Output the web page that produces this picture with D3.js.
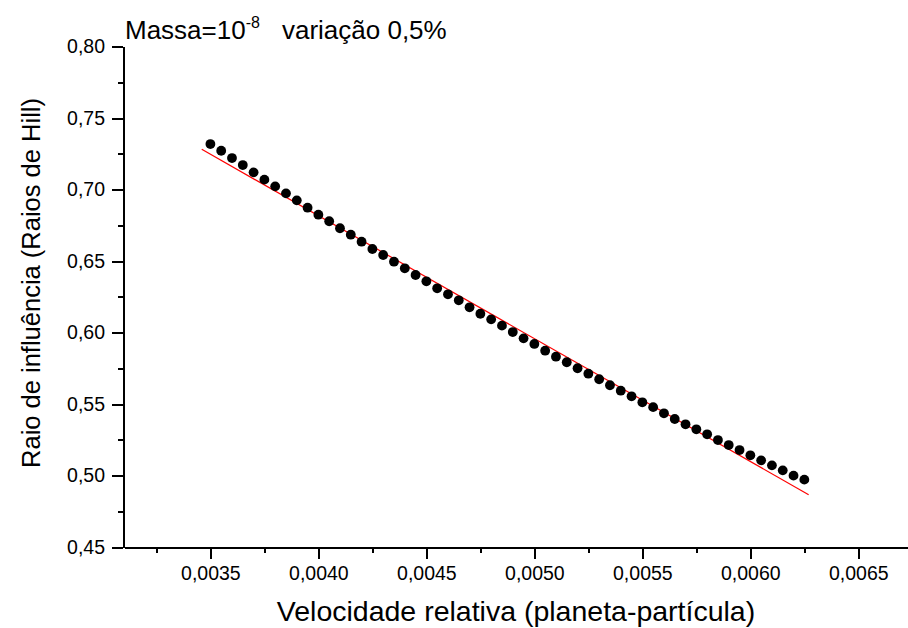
<!DOCTYPE html>
<html>
<head>
<meta charset="utf-8">
<script src="https://cdn.jsdelivr.net/npm/d3@7"></script>
<style>
  body { margin: 0; background: #fff; }
  svg { font-family: "Liberation Sans", Arial, sans-serif; }
  .axis path, .axis line { stroke: #000; stroke-width: 2; shape-rendering: crispEdges; }
  .axis text { font-size: 19.5px; fill: #000; }
</style>
</head>
<body>
<div id="chart"></div>
<script>
// velocidade relativa (planeta-particula)
var velocidade = [
  0.00350, 0.00355, 0.00360, 0.00365, 0.00370, 0.00375, 0.00380, 0.00385,
  0.00390, 0.00395, 0.00400, 0.00405, 0.00410, 0.00415, 0.00420, 0.00425,
  0.00430, 0.00435, 0.00440, 0.00445, 0.00450, 0.00455, 0.00460, 0.00465,
  0.00470, 0.00475, 0.00480, 0.00485, 0.00490, 0.00495, 0.00500, 0.00505,
  0.00510, 0.00515, 0.00520, 0.00525, 0.00530, 0.00535, 0.00540, 0.00545,
  0.00550, 0.00555, 0.00560, 0.00565, 0.00570, 0.00575, 0.00580, 0.00585,
  0.00590, 0.00595, 0.00600, 0.00605, 0.00610, 0.00615, 0.00620, 0.00625
];

// raio de influencia (raios de Hill)
var raio = [
  0.7318, 0.7271, 0.7220, 0.7171, 0.7120, 0.7069, 0.7022, 0.6973,
  0.6924, 0.6873, 0.6824, 0.6778, 0.6729, 0.6684, 0.6635, 0.6584,
  0.6542, 0.6495, 0.6449, 0.6402, 0.6358, 0.6309, 0.6267, 0.6225,
  0.6176, 0.6131, 0.6092, 0.6048, 0.6003, 0.5959, 0.5920, 0.5873,
  0.5831, 0.5792, 0.5750, 0.5712, 0.5673, 0.5631, 0.5593, 0.5554,
  0.5512, 0.5478, 0.5435, 0.5395, 0.5358, 0.5323, 0.5288, 0.5248,
  0.5213, 0.5178, 0.5141, 0.5106, 0.5071, 0.5036, 0.4999, 0.4971
];

// ajuste linear (linha vermelha)
var ajusteX = [0.00346, 0.00627];
var ajusteY = [0.7281, 0.4866];

var xTicks = [0.0035, 0.0040, 0.0045, 0.0050, 0.0055, 0.0060, 0.0065];
var xMinor = [0.00325, 0.00375, 0.00425, 0.00475, 0.00525, 0.00575, 0.00625];
var yTicks = [0.45, 0.50, 0.55, 0.60, 0.65, 0.70, 0.75, 0.80];
var yMinor = [0.475, 0.525, 0.575, 0.625, 0.675, 0.725, 0.775];

var width = 908,
  height = 628;

var x = d3.scaleLinear()
  .domain([0.0031, 0.00673])
  .range([124, 908]);

var y = d3.scaleLinear()
  .domain([0.45, 0.80])
  .range([547, 46.5]);

var comma = function (fmt) {
  var f = d3.format(fmt);
  return function (d) { return f(d).replace(".", ","); };
};

var svg = d3.select("#chart").append("svg")
  .attr("width", width)
  .attr("height", height);

// minor ticks first, then major axes
svg.append("g")
  .attr("class", "axis")
  .attr("transform", "translate(0,547)")
  .call(d3.axisBottom(x).tickValues(xMinor).tickSize(6).tickSizeOuter(0).tickFormat(""))
  .select(".domain").remove();

svg.append("g")
  .attr("class", "axis")
  .attr("transform", "translate(123,0)")
  .call(d3.axisLeft(y).tickValues(yMinor).tickSize(5).tickSizeOuter(0).tickFormat(""))
  .select(".domain").remove();

svg.append("g")
  .attr("class", "axis")
  .attr("transform", "translate(0,547)")
  .call(d3.axisBottom(x)
    .tickValues(xTicks)
    .tickSize(12)
    .tickSizeOuter(0)
    .tickPadding(7)
    .tickFormat(comma(".4f")));

svg.append("g")
  .attr("class", "axis")
  .attr("transform", "translate(123,0)")
  .call(d3.axisLeft(y)
    .tickValues(yTicks)
    .tickSize(11)
    .tickSizeOuter(0)
    .tickPadding(7)
    .tickFormat(comma(".2f")));

// fit line
var line = d3.line()
  .x(function (d) { return x(d[0]); })
  .y(function (d) { return y(d[1]); });

svg.append("path")
  .datum(d3.zip(ajusteX, ajusteY))
  .attr("d", line)
  .attr("fill", "none")
  .attr("stroke", "#ff0000")
  .attr("stroke-width", 1.2);

// data points
svg.selectAll(".ponto")
  .data(d3.zip(velocidade, raio))
  .enter().append("circle")
  .attr("class", "ponto")
  .attr("cx", function (d) { return x(d[0]); })
  .attr("cy", function (d) { return y(d[1]); })
  .attr("r", 4.9)
  .attr("fill", "#000");

// axis titles
svg.append("text")
  .attr("x", 516)
  .attr("y", 621)
  .attr("text-anchor", "middle")
  .style("font-size", "28.5px")
  .text("Velocidade relativa (planeta-partícula)");

svg.append("text")
  .attr("transform", "translate(40,283) rotate(-90)")
  .attr("text-anchor", "middle")
  .style("font-size", "25.5px")
  .text("Raio de influência (Raios de Hill)");

// title
var title = svg.append("text")
  .attr("x", 125)
  .attr("y", 39)
  .style("font-size", "26px");
title.append("tspan").text("Massa=10");
title.append("tspan")
  .attr("dy", -11)
  .style("font-size", "16px")
  .text("-8");
title.append("tspan")
  .attr("dy", 11)
  .attr("dx", 22)
  .text("variação 0,5%");
</script>
</body>
</html>
